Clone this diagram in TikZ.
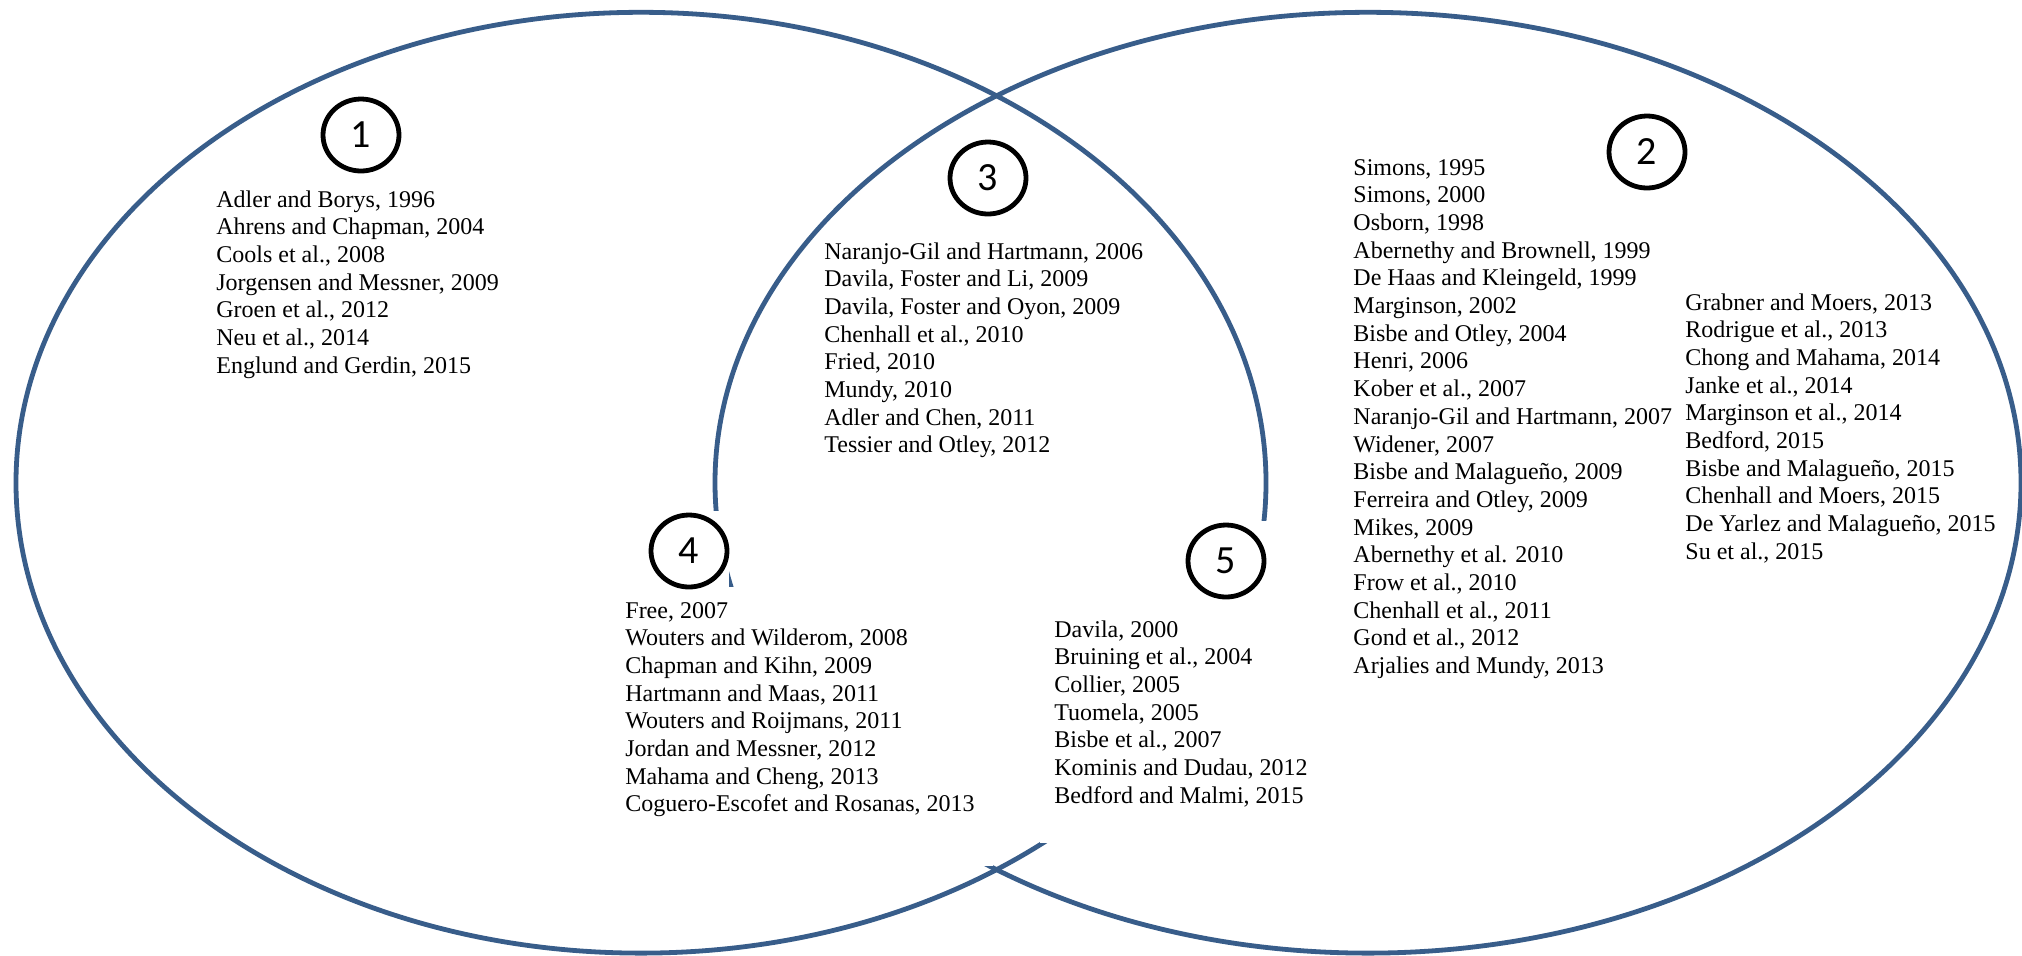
\documentclass[tikz,border=0pt]{standalone}
\usepackage{fontspec}
\setmainfont{Liberation Serif}
\newfontfamily\numfont{Carlito}
\usetikzlibrary{shapes.geometric}
\definecolor{vennblue}{HTML}{385D8A}
\begin{document}
\begin{tikzpicture}[x=0.5pt,y=-0.5pt,
  venn/.style={draw=vennblue, line width=2.4pt},
  cover/.style={fill=white},
  num/.style={draw=black, fill=white, line width=2.4pt, ellipse, minimum width=38pt, minimum height=36pt, inner sep=0pt, font=\numfont\fontsize{20}{24}\selectfont},
  refs/.style={anchor=base west, inner sep=0pt, font=\fontsize{12}{13.85}\selectfont}
]
\clip (0,0) rectangle (2022,955);
\fill[white] (0,0) rectangle (2022,955);
% the two sets
\draw[venn] (641,482.7) ellipse [x radius=312.5pt, y radius=235.2pt];
\draw[venn] (1368,482.7) ellipse [x radius=326.5pt, y radius=235.2pt];
% white boxes that hide parts of the inner arcs
\path[cover] (649,511) rectangle (729,591);
\path[cover] (620,587) rectangle (993,866);
\path[cover] (1186,521) rectangle (1268,601);
\path[cover] (1040,601) rectangle (1315,843);
% number markers
\node[num] (c1) at (361,135) {1};
\node[num] (c2) at (1647,152) {2};
\node[num] (c3) at (988,178) {3};
\node[num] (c4) at (689,551) {4};
\node[num] (c5) at (1226,561) {5};
% reference lists
\node[refs] (t1) at (216,207) {\begin{tabular}[t]{@{}l@{}}
Adler and Borys, 1996\\
Ahrens and Chapman, 2004\\
Cools et al., 2008\\
Jorgensen and Messner, 2009\\
Groen et al., 2012\\
Neu et al., 2014\\
Englund and Gerdin, 2015
\end{tabular}};
\node[refs] (t3) at (824,259) {\begin{tabular}[t]{@{}l@{}}
Naranjo-Gil and Hartmann, 2006\\
Davila, Foster and Li, 2009\\
Davila, Foster and Oyon, 2009\\
Chenhall et al., 2010\\
Fried, 2010\\
Mundy, 2010\\
Adler and Chen, 2011\\
Tessier and Otley, 2012
\end{tabular}};
\node[refs] (t2a) at (1353,175) {\begin{tabular}[t]{@{}l@{}}
Simons, 1995\\
Simons, 2000\\
Osborn, 1998\\
Abernethy and Brownell, 1999\\
De Haas and Kleingeld, 1999\\
Marginson, 2002\\
Bisbe and Otley, 2004\\
Henri, 2006\\
Kober et al., 2007\\
Naranjo-Gil and Hartmann, 2007\\
Widener, 2007\\
Bisbe and Malagueño, 2009\\
Ferreira and Otley, 2009\\
Mikes, 2009\\
Abernethy et al. 2010\\
Frow et al., 2010\\
Chenhall et al., 2011\\
Gond et al., 2012\\
Arjalies and Mundy, 2013
\end{tabular}};
\node[refs] (t2b) at (1685,310) {\begin{tabular}[t]{@{}l@{}}
Grabner and Moers, 2013\\
Rodrigue et al., 2013\\
Chong and Mahama, 2014\\
Janke et al., 2014\\
Marginson et al., 2014\\
Bedford, 2015\\
Bisbe and Malagueño, 2015\\
Chenhall and Moers, 2015\\
De Yarlez and Malagueño, 2015\\
Su et al., 2015
\end{tabular}};
\node[refs] (t4) at (625,618) {\begin{tabular}[t]{@{}l@{}}
Free, 2007\\
Wouters and Wilderom, 2008\\
Chapman and Kihn, 2009\\
Hartmann and Maas, 2011\\
Wouters and Roijmans, 2011\\
Jordan and Messner, 2012\\
Mahama and Cheng, 2013\\
Coguero-Escofet and Rosanas, 2013
\end{tabular}};
\node[refs] (t5) at (1054,637) {\begin{tabular}[t]{@{}l@{}}
Davila, 2000\\
Bruining et al., 2004\\
Collier, 2005\\
Tuomela, 2005\\
Bisbe et al., 2007\\
Kominis and Dudau, 2012\\
Bedford and Malmi, 2015
\end{tabular}};
\end{tikzpicture}
\end{document}
